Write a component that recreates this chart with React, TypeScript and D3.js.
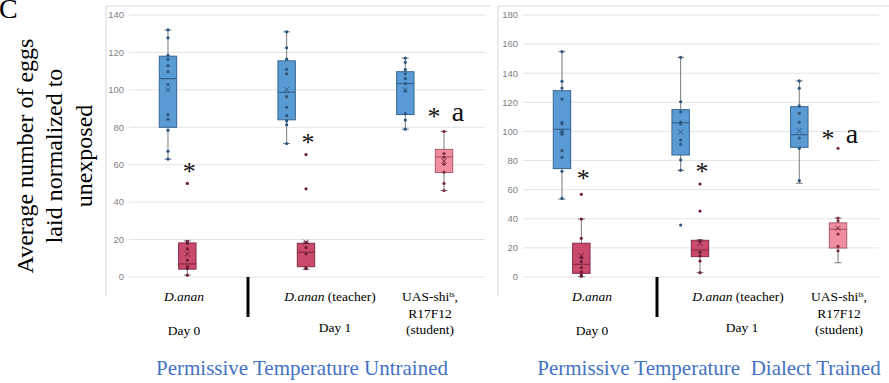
import React from 'react';
import * as d3 from 'd3';

const categories = ['D.anan', 'D.anan (teacher)', 'UAS-shits, R17F12 (student)'];
const seriesKeys = ['unexposed', 'exposed', 'student'];

// [category, series, low whisker, q1, median, q3, high whisker, mean]
const untrainedStats: [number, string, number, number, number, number, number, number][] = [
  [0, 'unexposed', 63, 80, 106, 118, 132, 100],
  [0, 'exposed', 1, 4.2, 7, 18.2, 19.3, 12.3],
  [1, 'unexposed', 71.3, 84, 98.7, 115.5, 131, 100.2],
  [1, 'exposed', 4.1, 5.5, 13.2, 18, 18.6, 18.6],
  [2, 'unexposed', 79, 86.8, 103.4, 109.7, 117, 100],
  [2, 'student', 46.2, 55.8, 64.2, 68.2, 77.8, 62],
];
const untrainedPoints = [
  [132, 127.8, 118.4, 116.3, 112.9, 109.7, 102.8, 86.8, 84.3, 78.4, 67.2, 63],
  [19, 18, 15, 9, 5.5, 4.5, 1, 50],
  [131, 122.5, 116.4, 111, 108.6, 96.4, 90.7, 86.2, 83.4, 81.3, 71.3],
  [18.5, 15.7, 12.4, 5, 4.4, 65.4, 47.1],
  [117, 114.7, 110.8, 108.6, 106, 103.3, 99.4, 87.3, 83.9, 79],
  [77.8, 66, 64, 60.3, 56, 50, 46.2],
];
const untrainedTicks = [0, 20, 40, 60, 80, 100, 120, 140];
// significance marks: [category, series, value, letter]
const untrainedMarks: [number, string, number, string][] = [
  [0, 'exposed', 58, ''],
  [1, 'exposed', 73.5, ''],
  [2, 'student', 87.5, 'a'],
];

const trainedStats: [number, string, number, number, number, number, number, number][] = [
  [0, 'unexposed', 53.5, 74.5, 101.5, 128, 154.8, 100],
  [0, 'exposed', 0.3, 2.5, 8.7, 23.2, 39.8, 14.5],
  [1, 'unexposed', 73.3, 83.8, 106, 115, 150.9, 99.7],
  [1, 'exposed', 3, 14, 18.5, 25.2, 25.5, 23],
  [2, 'unexposed', 64.4, 89.1, 97.8, 117, 134.7, 100.5],
  [2, 'student', 9.8, 19.9, 32.8, 37.2, 40.5, 33.5],
];
const trainedPoints = [
  [154.8, 134.4, 129.8, 122.3, 106, 105.1, 99.8, 98, 86.8, 82.2, 72.6, 54],
  [39.8, 26.6, 13.3, 10.5, 6.4, 3.6, 1.5, 0.5, 56.8],
  [150.9, 120.4, 113.4, 106.5, 105.1, 94.1, 91.2, 80.4, 73.3, 35.7],
  [25, 17, 14.5, 11, 3, 63.9, 45.3],
  [134.7, 129.6, 117.5, 112.5, 106.3, 95.5, 88.4, 66.2],
  [40.5, 38.5, 29.5, 21, 18, 88.4],
];
const trainedTicks = [0, 20, 40, 60, 80, 100, 120, 140, 160, 180];
const trainedMarks: [number, string, number, string][] = [
  [0, 'exposed', 70, ''],
  [1, 'exposed', 75, ''],
  [2, 'student', 97.5, 'a'],
];

const fills: Record<string, string> = { unexposed: '#5b9bd5', exposed: '#c94a6d', student: '#f08d9e' };
const strokes: Record<string, string> = { unexposed: '#35658f', exposed: '#862a45', student: '#a85a67' };
const dots: Record<string, string> = { unexposed: '#2b5680', exposed: '#6a1d35', student: '#80303f' };

const serif = '"Liberation Serif", "Times New Roman", serif';
const sans = '"Liberation Sans", Arial, sans-serif';

type PanelProps = {
  stats: [number, string, number, number, number, number, number, number][];
  points: number[][];
  marks: [number, string, number, string][];
  ticks: number[];
  left: number;
  right: number;
  frameLeft: number;
  frameRight: number;
  labelX: number[];
  title: string;
  titleX: number;
};

function Panel(p: PanelProps) {
  const y = d3.scaleLinear().domain([0, d3.max(p.ticks)!]).range([277, 15]);
  const x = d3.scaleBand<number>().domain(d3.range(categories.length)).range([p.left, p.right]);
  const bw = x.bandwidth();
  const sx = d3.scaleBand<string>().domain(seriesKeys).range([bw / 2 - 31, bw / 2 + 29]).padding(0.1);
  const w = sx.bandwidth();
  const cx = (c: number, s: string) => x(c)! + sx(s)! + w / 2;

  return (
    <g>
      <line x1={p.frameLeft} x2={p.frameLeft} y1={6} y2={296} stroke="#d9d9d9" />
      <line x1={p.frameLeft} x2={p.frameRight} y1={6} y2={6} stroke="#d9d9d9" />
      {p.ticks.map((t) => (
        <g key={t}>
          <line x1={p.left} x2={p.right} y1={y(t)} y2={y(t)} stroke="#e3e3e3" />
          <text x={p.left - 5} y={y(t) + 3.3} textAnchor="end" fontSize={9.5} fill="#7f7f7f" fontFamily={sans}>
            {t}
          </text>
        </g>
      ))}
      {p.stats.map(([c, s, lo, q1, med, q3, hi, mean], i) => {
        const m = cx(c, s);
        return (
          <g key={i}>
            <line x1={m} x2={m} y1={y(hi)} y2={y(q3)} stroke="#7a7a7a" />
            <line x1={m} x2={m} y1={y(q1)} y2={y(lo)} stroke="#7a7a7a" />
            <line x1={m - 3.5} x2={m + 3.5} y1={y(hi)} y2={y(hi)} stroke="#7a7a7a" />
            <line x1={m - 3.5} x2={m + 3.5} y1={y(lo)} y2={y(lo)} stroke="#7a7a7a" />
            <rect x={m - w / 2} y={y(q3)} width={w} height={y(q1) - y(q3)} fill={fills[s]} stroke={strokes[s]} />
            <line x1={m - w / 2} x2={m + w / 2} y1={y(med)} y2={y(med)} stroke={strokes[s]} strokeWidth={1.2} />
            {p.points[i].map((v, j) => (
              <circle key={j} cx={m} cy={y(v)} r={1.6} fill={dots[s]} />
            ))}
            <path
              d={`M${m - 2.5},${y(mean) - 2.5}L${m + 2.5},${y(mean) + 2.5}M${m - 2.5},${y(mean) + 2.5}L${m + 2.5},${y(mean) - 2.5}`}
              stroke={dots[s]}
              strokeWidth={1}
            />
          </g>
        );
      })}
      {p.marks.map(([c, s, v, letter], i) => {
        const m = cx(c, s);
        return letter ? (
          <g key={i} fontFamily={serif} fill="#111">
            <text x={m - 10} y={y(v) + 12} fontSize={26} textAnchor="middle">*</text>
            <text x={m + 14} y={y(v) + 8} fontSize={28} textAnchor="middle">{letter}</text>
          </g>
        ) : (
          <text key={i} x={m + 2} y={y(v) + 12} fontSize={26} textAnchor="middle" fontFamily={serif} fill="#111">
            *
          </text>
        );
      })}
      <g fontFamily={serif} fontSize={13.5} fill="#000" textAnchor="middle">
        <text x={p.labelX[0]} y={301} fontStyle="italic">D.anan</text>
        <text x={p.labelX[0]} y={335}>Day 0</text>
        <line x1={p.labelX[1]} x2={p.labelX[1]} y1={277} y2={317} stroke="#000" strokeWidth={3} />
        <text x={p.labelX[2]} y={301}>
          <tspan fontStyle="italic">D.anan</tspan> (teacher)
        </text>
        <text x={p.labelX[3]} y={332}>Day 1</text>
        <text x={p.labelX[4]} y={301}>
          UAS-shi<tspan fontSize={8} dy={-4}>ts</tspan>
          <tspan dy={4}>,</tspan>
        </text>
        <text x={p.labelX[4]} y={317.5}>R17F12</text>
        <text x={p.labelX[4]} y={334}>(student)</text>
      </g>
      <text x={p.titleX} y={375} textAnchor="middle" fontFamily={serif} fontSize={21} fill="#4472c4" style={{ whiteSpace: 'pre' }}>
        {p.title}
      </text>
    </g>
  );
}

export default function App() {
  return (
    <svg width={889} height={383} style={{ position: 'absolute', left: 0, top: 0, background: '#fff' }}>
      <text x={-1} y={18} fontFamily={serif} fontSize={28} fill="#000">C</text>
      <g fontFamily={serif} fontSize={24} fill="#000" textAnchor="middle">
        <text transform="translate(33,156) rotate(-90)">Average number of eggs</text>
        <text transform="translate(62,156) rotate(-90)">laid normalized to</text>
        <text transform="translate(92,156) rotate(-90)">unexposed</text>
      </g>
      <Panel
        stats={untrainedStats}
        points={untrainedPoints}
        marks={untrainedMarks}
        ticks={untrainedTicks}
        left={129}
        right={485}
        frameLeft={106}
        frameRight={490}
        labelX={[184, 248, 330, 335, 430]}
        title="Permissive Temperature Untrained"
        titleX={302}
      />
      <Panel
        stats={trainedStats}
        points={trainedPoints}
        marks={trainedMarks}
        ticks={trainedTicks}
        left={523}
        right={879}
        frameLeft={498}
        frameRight={889}
        labelX={[592, 657, 738, 742, 839]}
        title={'Permissive Temperature  Dialect Trained'}
        titleX={709}
      />
    </svg>
  );
}
